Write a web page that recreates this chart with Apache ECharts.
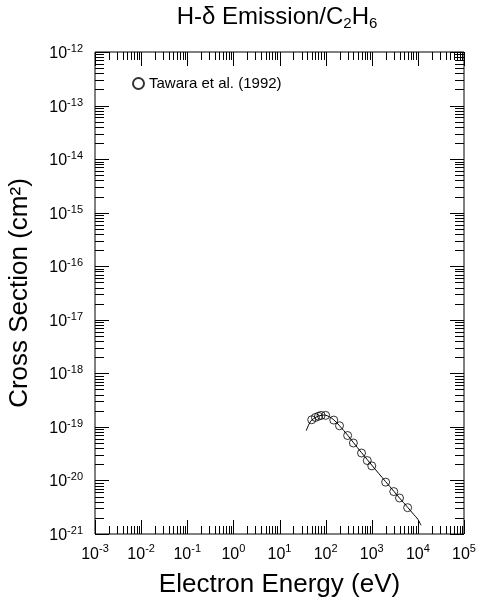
<!DOCTYPE html>
<html><head><meta charset="utf-8">
<script src="https://cdn.jsdelivr.net/npm/echarts@6/dist/echarts.min.js"></script>
<style>html,body{margin:0;padding:0;background:#fff}#c{width:483px;height:600px}#err{position:absolute;left:0;top:300px;width:483px;font:11px monospace;color:red;white-space:pre-wrap}</style>
</head><body><div id="c"></div><div id="err"></div>
<script>
window.onerror = function (m, s, l, c, e) { document.getElementById('err').textContent += 'ERR: ' + m + '\n'; };
// Tawara et al. (1992) measured points
const pointE = [50, 60, 70, 80, 100, 150, 200, 300, 400, 600, 800, 1000, 2000, 3000, 4000, 6000];
const pointS = [1.36e-19, 1.50e-19, 1.58e-19, 1.64e-19, 1.64e-19, 1.34e-19, 1.05e-19, 6.9e-20, 5.0e-20, 3.25e-20, 2.35e-20, 1.87e-20, 9.3e-21, 6.2e-21, 4.7e-21, 3.1e-21];
// fitted curve
const curveE = [38, 42, 46, 50, 60, 70, 80, 90, 100, 120, 150, 200, 300, 400, 600, 800, 1000, 2000, 3000, 4000, 6000, 8000, 10000, 11700];
const curveS = [8.5e-20, 1.05e-19, 1.22e-19, 1.34e-19, 1.50e-19, 1.59e-19, 1.64e-19, 1.66e-19, 1.65e-19, 1.55e-19, 1.36e-19, 1.05e-19, 7.0e-20, 5.1e-20, 3.3e-20, 2.45e-20, 1.93e-20, 9.5e-21, 6.3e-21, 4.7e-21, 3.15e-21, 2.35e-21, 1.88e-21, 1.45e-21];
// tick label exponents
const xTickExps = [-3, -2, -1, 0, 1, 2, 3, 4, 5];
const yTickExps = [-21, -20, -19, -18, -17, -16, -15, -14, -13, -12];

const FONT = 'Liberation Sans';
const xMin = Math.pow(10, xTickExps[0]), xMax = Math.pow(10, xTickExps[xTickExps.length - 1]);
const yMin = Math.pow(10, yTickExps[0]), yMax = Math.pow(10, yTickExps[yTickExps.length - 1]);

function tickVals(exps) {
  const out = [];
  for (let i = 0; i < exps.length - 1; i++) {
    for (let m = 1; m <= 9; m++) out.push(m * Math.pow(10, exps[i]));
  }
  out.push(Math.pow(10, exps[exps.length - 1]));
  return out;
}
const xTicks = tickVals(xTickExps).map(v => [v, yMin]);
const yTicks = tickVals(yTickExps).map(v => [xMin, v]);
function isMajor(v) { const l = Math.log10(v); return Math.abs(l - Math.round(l)) < 1e-6; }

const chart = echarts.init(document.getElementById('c'));
const xRich = {
  b: { fontFamily: FONT, fontSize: 16, color: '#000', lineHeight: 20, verticalAlign: 'bottom' },
  s: { fontFamily: FONT, fontSize: 11, color: '#000', lineHeight: 10, verticalAlign: 'top' }
};
const yRich = {
  b: { fontFamily: FONT, fontSize: 16, color: '#000', lineHeight: 18, verticalAlign: 'bottom' },
  s: { fontFamily: FONT, fontSize: 11, color: '#000', lineHeight: 10, verticalAlign: 'top' }
};
function expFmt(list) {
  return function (v) {
    const e = Math.round(Math.log10(v));
    return list.indexOf(e) >= 0 ? '{b|10}{s|' + e + '}' : '';
  };
}
const yFmt = expFmt(yTickExps);
function xTickItem(params, api) {
  const v = api.value(0);
  const p = api.coord([v, yMin]);
  const cs = params.coordSys;
  const L = isMajor(v) ? 14 : 8;
  const x = Math.round(p[0]) + 0.5;
  return { type: 'group', children: [
    { type: 'line', shape: { x1: x, y1: cs.y + cs.height, x2: x, y2: cs.y + cs.height - L }, style: { stroke: '#000', lineWidth: 1 } },
    { type: 'line', shape: { x1: x, y1: cs.y, x2: x, y2: cs.y + L }, style: { stroke: '#000', lineWidth: 1 } }
  ]};
}
function yTickItem(params, api) {
  const v = api.value(1);
  const p = api.coord([xMin, v]);
  const cs = params.coordSys;
  const major = isMajor(v);
  const L = major ? 14 : 9;
  const y = Math.round(p[1]) + 0.5;
  const children = [
    { type: 'line', shape: { x1: cs.x, y1: y, x2: cs.x + L, y2: y }, style: { stroke: '#000', lineWidth: 1 } },
    { type: 'line', shape: { x1: cs.x + cs.width, y1: y, x2: cs.x + cs.width - L, y2: y }, style: { stroke: '#000', lineWidth: 1 } }
  ];
  if (major) {
    children.push({ type: 'text', x: cs.x - 12, y: y, style: { text: yFmt(v), rich: yRich, align: 'right', verticalAlign: 'middle' } });
  }
  return { type: 'group', children: children };
}
try {
chart.setOption({
  backgroundColor: '#fff',
  animation: false,
  graphic: [{
    type: 'text', x: 277, y: 4,
    style: {
      text: '{n|H-δ Emission/C}{sub|2}{n|H}{sub|6}', align: 'center',
      rich: {
        n: { fontFamily: FONT, fontSize: 24, color: '#000', lineHeight: 26 },
        sub: { fontFamily: FONT, fontSize: 15, color: '#000', lineHeight: 15, padding: [12, 0, 0, 0], verticalAlign: 'top' }
      }
    }
  }],
  legend: {
    data: ['Tawara et al. (1992)'],
    left: 127, top: 71, itemWidth: 11, itemHeight: 11, icon: 'circle',
    textStyle: { fontFamily: FONT, fontSize: 15, color: '#000' }
  },
  grid: { left: 95, top: 52, width: 369, height: 482, show: true, borderColor: '#000', borderWidth: 1, backgroundColor: 'transparent', outerBoundsMode: 'none' },
  xAxis: {
    type: 'log', logBase: 10, min: xMin, max: xMax,
    axisLine: { show: false }, axisTick: { show: false }, splitLine: { show: false },
    axisLabel: { formatter: expFmt(xTickExps), margin: 9, rich: xRich, showMinLabel: true, showMaxLabel: true, hideOverlap: false },
    name: 'Electron Energy (eV)', nameLocation: 'middle', nameGap: 38, nameMoveOverlap: false,
    nameTextStyle: { fontFamily: FONT, fontSize: 26, color: '#000' }
  },
  yAxis: {
    type: 'log', logBase: 10, min: yMin, max: yMax,
    axisLine: { show: false }, axisTick: { show: false }, splitLine: { show: false },
    axisLabel: { show: false },
    name: 'Cross Section (cm²)', nameLocation: 'middle', nameGap: 62, nameRotate: 90, nameMoveOverlap: false,
    nameTextStyle: { fontFamily: FONT, fontSize: 26, color: '#000' }
  },
  series: [
    {
      name: 'fit', type: 'line', data: curveE.map((e, i) => [e, curveS[i]]),
      showSymbol: false, symbol: 'none', smooth: 0.3, lineStyle: { color: '#000', width: 1 }, silent: true, z: 3
    },
    {
      name: 'Tawara et al. (1992)', type: 'scatter', data: pointE.map((e, i) => [e, pointS[i]]),
      symbol: 'circle', symbolSize: 8,
      itemStyle: { color: 'rgba(0,0,0,0)', borderColor: '#000', borderWidth: 1 }, z: 4
    },
    { name: 'xticks', type: 'custom', data: xTicks, silent: true, z: 5, renderItem: xTickItem },
    { name: 'yticks', type: 'custom', data: yTicks, silent: true, z: 5, renderItem: yTickItem }
  ]
});
} catch (e) { document.getElementById('err').textContent += 'CATCH: ' + e.message + '\n'; }
</script>
</body></html>
